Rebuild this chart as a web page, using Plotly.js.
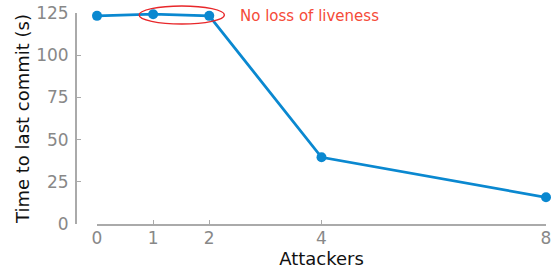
<!DOCTYPE html>
<html>
<head>
<meta charset="utf-8">
<script src="https://cdn.plot.ly/plotly-3.0.1.min.js"></script>
<style>html,body{margin:0;padding:0;background:#fff;}#chart{width:559px;height:272px;}</style>
</head>
<body>
<div id="chart"></div>
<script>
var attackers = [0, 1, 2, 4, 8];
var timeToLastCommit = [123.3, 124.3, 123.3, 39.5, 15.8];
var xTickVals = [0, 1, 2, 4, 8];
var yTickVals = [0, 25, 50, 75, 100, 125];
var annotationText = "No loss of liveness";

var font = "DejaVu Sans, sans-serif";
var trace = {
  x: attackers, y: timeToLastCommit, type: 'scatter', mode: 'lines+markers',
  line: {color: '#0a88d0', width: 2.8},
  marker: {color: '#0a88d0', size: 10},
  cliponaxis: false, showlegend: false
};
var layout = {
  width: 559, height: 272,
  margin: {l: 75, r: 13, t: 13, b: 48},
  paper_bgcolor: '#fff', plot_bgcolor: '#fff',
  xaxis: {
    range: [0, 8], domain: [22/471, 1],
    tickvals: xTickVals, ticktext: xTickVals.map(String),
    showgrid: false, zeroline: false, showline: true, linecolor: '#aaaaaa', linewidth: 1.5,
    ticks: 'inside', ticklen: 4, tickcolor: '#aaaaaa', tickwidth: 1,
    ticklabelstandoff: -2,
    tickfont: {family: font, size: 17, color: '#888888'},
    title: {text: 'Attackers', font: {family: font, size: 18, color: '#111'}, standoff: 4}
  },
  yaxis: {
    range: [0, 125], anchor: 'free', position: 0,
    tickvals: yTickVals,
    showgrid: false, zeroline: false, showline: true, linecolor: '#aaaaaa', linewidth: 1.5,
    ticks: 'inside', ticklen: 4, tickcolor: '#aaaaaa', tickwidth: 1,
    ticklabelstandoff: 3,
    tickfont: {family: font, size: 17, color: '#888888'},
    title: {text: 'Time to last commit (s)', font: {family: font, size: 18, color: '#111'}, standoff: 0}
  },
  shapes: [{
    type: 'circle', xref: 'x', yref: 'paper',
    x0: 0.75, x1: 2.27, y0: 0.948, y1: 1.033,
    line: {color: '#e8272a', width: 1.4}, layer: 'above'
  }],
  annotations: [{
    x: 2.52, y: 123.3, xref: 'x', yref: 'y', xanchor: 'left', yanchor: 'middle',
    text: annotationText, showarrow: false,
    font: {family: font, size: 15, color: '#f54b38'}
  }]
};
Plotly.newPlot('chart', [trace], layout, {displayModeBar: false, staticPlot: true});
</script>
</body>
</html>
